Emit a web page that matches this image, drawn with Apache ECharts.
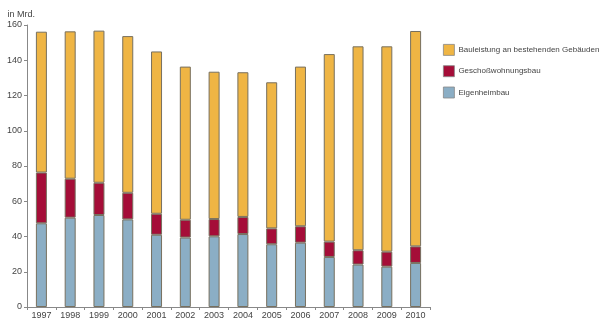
<!DOCTYPE html>
<html>
<head>
<meta charset="utf-8">
<script src="https://cdn.jsdelivr.net/npm/echarts@6/dist/echarts.min.js"></script>
<style>
  html, body { margin: 0; padding: 0; background: #fff; }
  #chart { width: 600px; height: 324px; }
</style>
</head>
<body>
<div id="chart"></div>
<script>
// Jahre
const years = ['1997','1998','1999','2000','2001','2002','2003','2004','2005','2006','2007','2008','2009','2010'];
// Bauvolumen in Mrd. Euro, je Teilbereich
const eigenheimbau = [47.5, 50.7, 52.2, 49.7, 41.0, 39.4, 40.1, 41.4, 35.6, 36.5, 28.4, 24.1, 22.9, 25.0];
const geschosswohnungsbau = [28.8, 22.1, 18.3, 15.1, 11.9, 10.1, 9.8, 9.7, 9.0, 9.3, 8.7, 8.1, 8.5, 9.4];
const bestandsleistung = [79.9, 83.6, 86.3, 88.9, 92.1, 86.9, 83.6, 82.1, 82.9, 90.6, 106.4, 115.7, 116.5, 122.2];
// Achsenbeschriftung
const yTicks = [0, 20, 40, 60, 80, 100, 120, 140, 160];

const names = {
  bestand: 'Bauleistung an bestehenden Gebäuden',
  geschoss: 'Geschoßwohnungsbau',
  eigen: 'Eigenheimbau'
};
const colors = { bestand: '#EFB544', geschoss: '#A50D38', eigen: '#8BAEC5' };
const font = 'Liberation Sans, Arial, sans-serif';

function barSeries(name, data, color) {
  return {
    name: name,
    type: 'bar',
    stack: 'total',
    data: data,
    barWidth: 11,
    itemStyle: { color: color, borderColor: '#77705f', borderWidth: 1 },
    emphasis: { disabled: true }
  };
}

const chart = echarts.init(document.getElementById('chart'), null, { renderer: 'canvas' });
chart.setOption({
  animation: false,
  textStyle: { fontFamily: font },
  grid: { left: 27, right: 170, top: 25, bottom: 17, containLabel: false },
  legend: {
    orient: 'vertical',
    left: 438,
    top: 39,
    itemWidth: 11,
    itemHeight: 11,
    itemGap: 9.5,
    icon: 'rect',
    selectedMode: false,
    data: [names.bestand, names.geschoss, names.eigen],
    itemStyle: { borderColor: '#888', borderWidth: 0.8 },
    textStyle: { fontSize: 8, color: '#444', fontFamily: font, padding: [0, 0, 0, -1] }
  },
  xAxis: {
    type: 'category',
    data: years,
    boundaryGap: true,
    axisLine: { lineStyle: { color: '#888', width: 1 } },
    axisTick: { show: true, alignWithLabel: false, length: 3, lineStyle: { color: '#888' } },
    axisLabel: { fontSize: 9, color: '#444', margin: 4, interval: 0 }
  },
  yAxis: {
    type: 'value',
    min: yTicks[0],
    max: yTicks[yTicks.length - 1],
    interval: 20,
    name: 'in Mrd.',
    nameLocation: 'end',
    nameGap: 6,
    nameTextStyle: { fontSize: 9, color: '#444', align: 'right', padding: [0, -8, 0, 0] },
    axisLine: { show: true, lineStyle: { color: '#888', width: 1 } },
    axisTick: { show: true, length: 3, lineStyle: { color: '#888' } },
    splitLine: { show: false },
    axisLabel: { fontSize: 9, color: '#444', margin: 5 }
  },
  series: [
    barSeries(names.eigen, eigenheimbau, colors.eigen),
    barSeries(names.geschoss, geschosswohnungsbau, colors.geschoss),
    barSeries(names.bestand, bestandsleistung, colors.bestand)
  ]
});
</script>
</body>
</html>
